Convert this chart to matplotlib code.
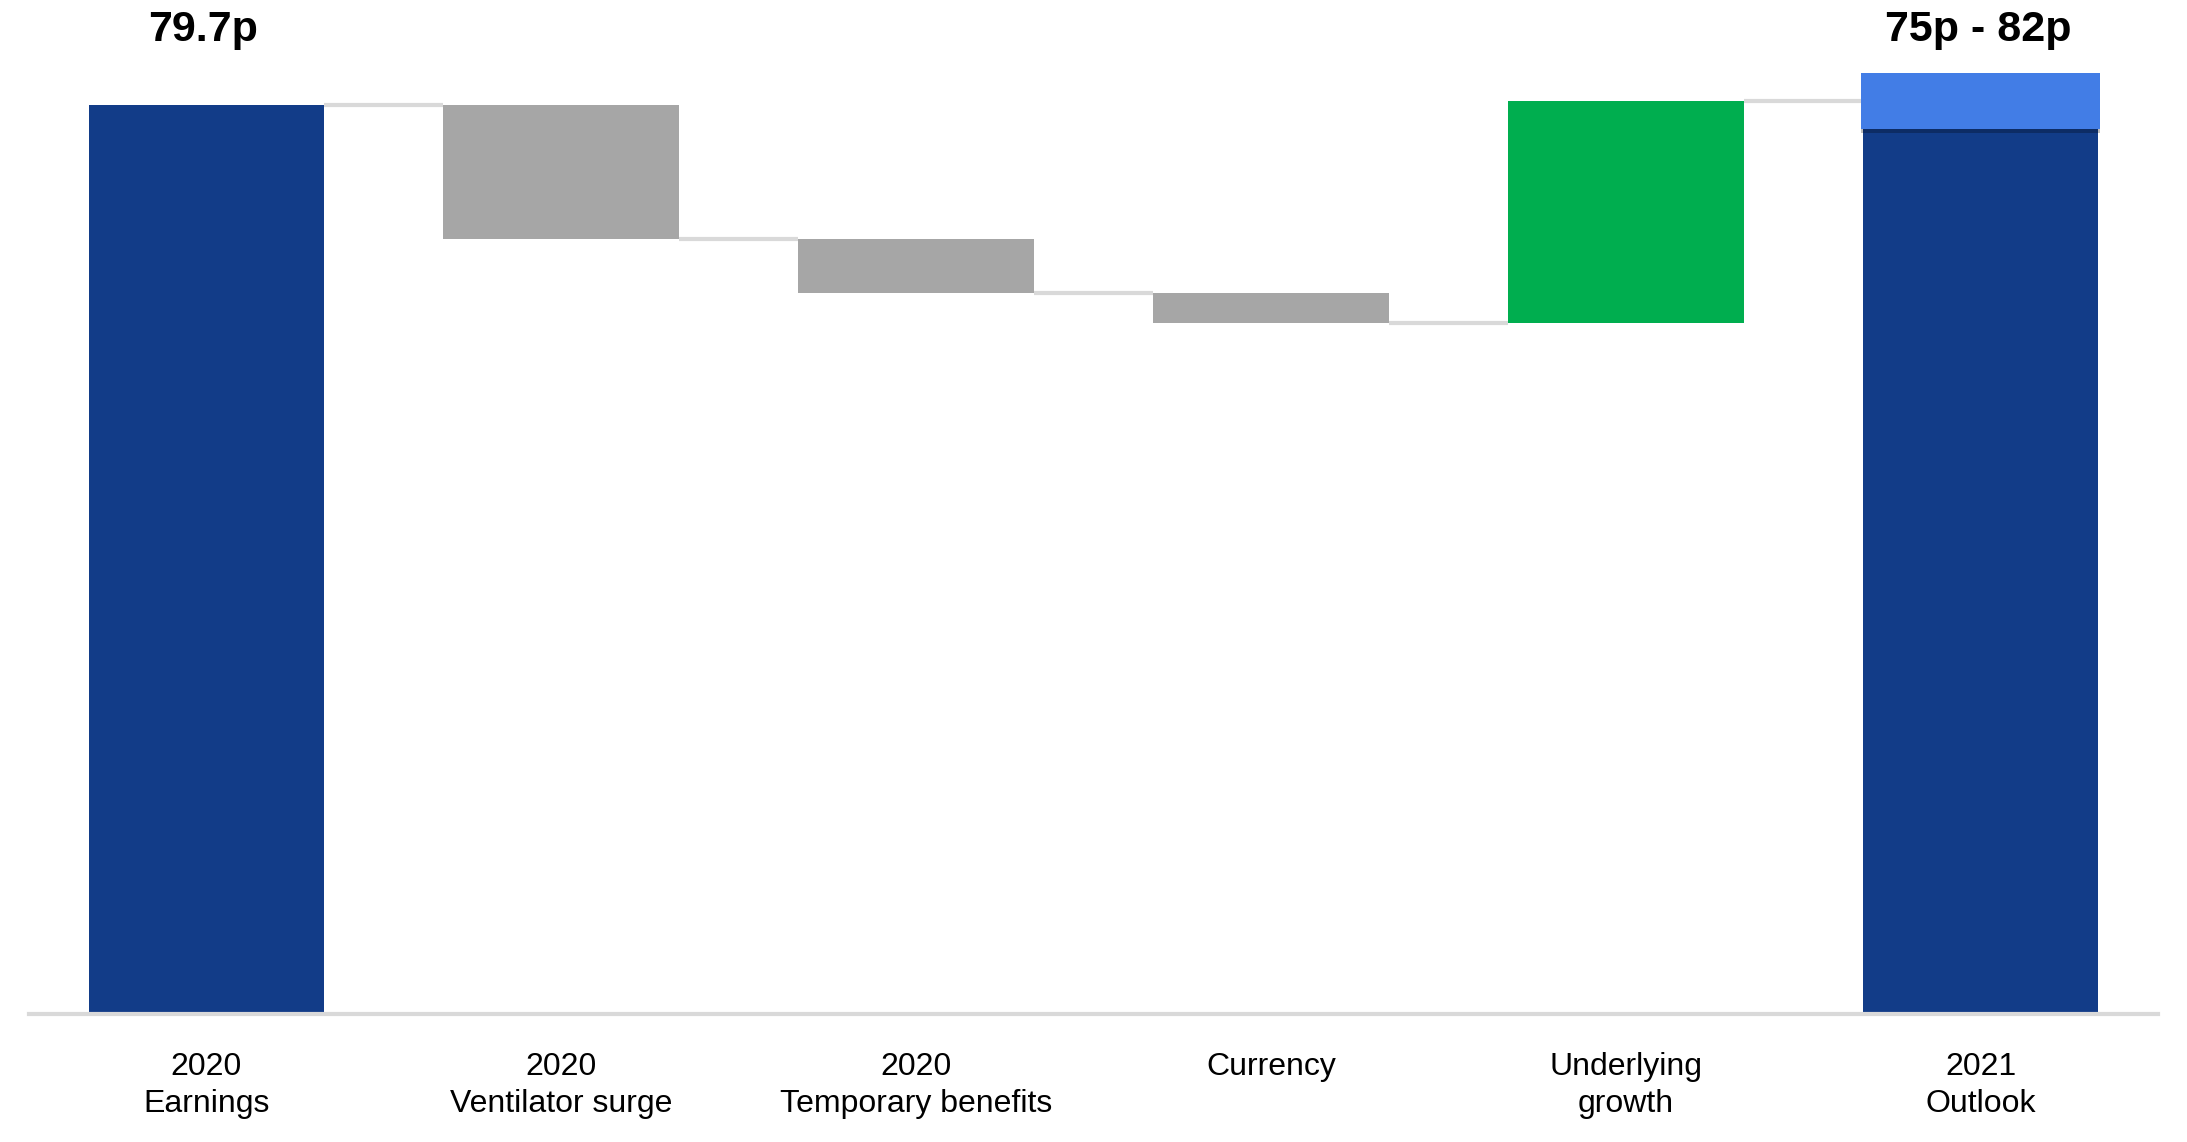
import matplotlib.pyplot as plt
import matplotlib.patheffects as pe
import numpy as np

plt.rcParams['font.family'] = ['Liberation Sans', 'DejaVu Sans']

# bridge from 2020 earnings to 2021 outlook (pence per share)
categories = ["2020\nEarnings", "2020\nVentilator surge", "2020\nTemporary benefits",
              "Currency", "Underlying\ngrowth", "2021\nOutlook"]
start_value = 79.7
changes = [-11.8, -4.7, -2.6, 19.4]
outlook_low, outlook_high = 77.6, 82.5   # light blue range box on the last bar
top_labels = ["79.7p", "75p - 82p"]

dark_blue = "#123c88"
grey = "#a6a6a6"
green = "#00ae4f"
light_blue = "#427de6"
line_grey = "#d9d9d9"

# running totals
levels = [start_value]
for c in changes:
    levels.append(levels[-1] + c)
end_value = levels[-1]

fig = plt.figure(figsize=(21.87, 11.42), dpi=100)
ax = fig.add_axes([0.0133, 0.1125, 0.9734, 0.8875])

x = np.arange(len(categories))
w = 0.665

# totals
ax.bar(x[0], start_value, width=w, color=dark_blue, zorder=2)
ax.bar(x[-1], end_value, width=w, color=dark_blue, zorder=2)

# steps
for i, c in enumerate(changes):
    bottom = levels[i] if c > 0 else levels[i + 1]
    ax.bar(x[i + 1], abs(c), bottom=bottom, width=w,
           color=green if c > 0 else grey, zorder=2)

# connectors
for i in range(len(categories) - 1):
    ax.plot([x[i] + w / 2, x[i + 1] - w / 2], [levels[min(i, len(levels) - 1)]] * 2,
            color=line_grey, lw=3, zorder=1, solid_capstyle='butt')

# outlook range box
ax.bar(x[-1], outlook_high - outlook_low, bottom=outlook_low, width=w + 0.01,
       color=light_blue, zorder=3,
       path_effects=[pe.SimplePatchShadow(offset=(0, -3), shadow_rgbFace='black', alpha=0.25),
                     pe.Normal()])

# headline labels
ax.text(x[0] - 0.01, 86.3, top_labels[0], ha='center', va='center',
        fontsize=31, fontweight='bold')
ax.text(x[-1] - 0.005, 86.3, top_labels[1], ha='center', va='center',
        fontsize=31, fontweight='bold')

ax.set_xlim(-0.5, 5.5)
ax.set_ylim(0, 88.9)
ax.set_xticks(x)
ax.set_xticklabels(categories, fontsize=23, linespacing=1.3)
ax.tick_params(axis='x', length=0, pad=28)
ax.set_yticks([])
for s in ['top', 'left', 'right']:
    ax.spines[s].set_visible(False)
ax.spines['bottom'].set_color(line_grey)
ax.spines['bottom'].set_linewidth(3)

fig.savefig("out.png", dpi=100)
